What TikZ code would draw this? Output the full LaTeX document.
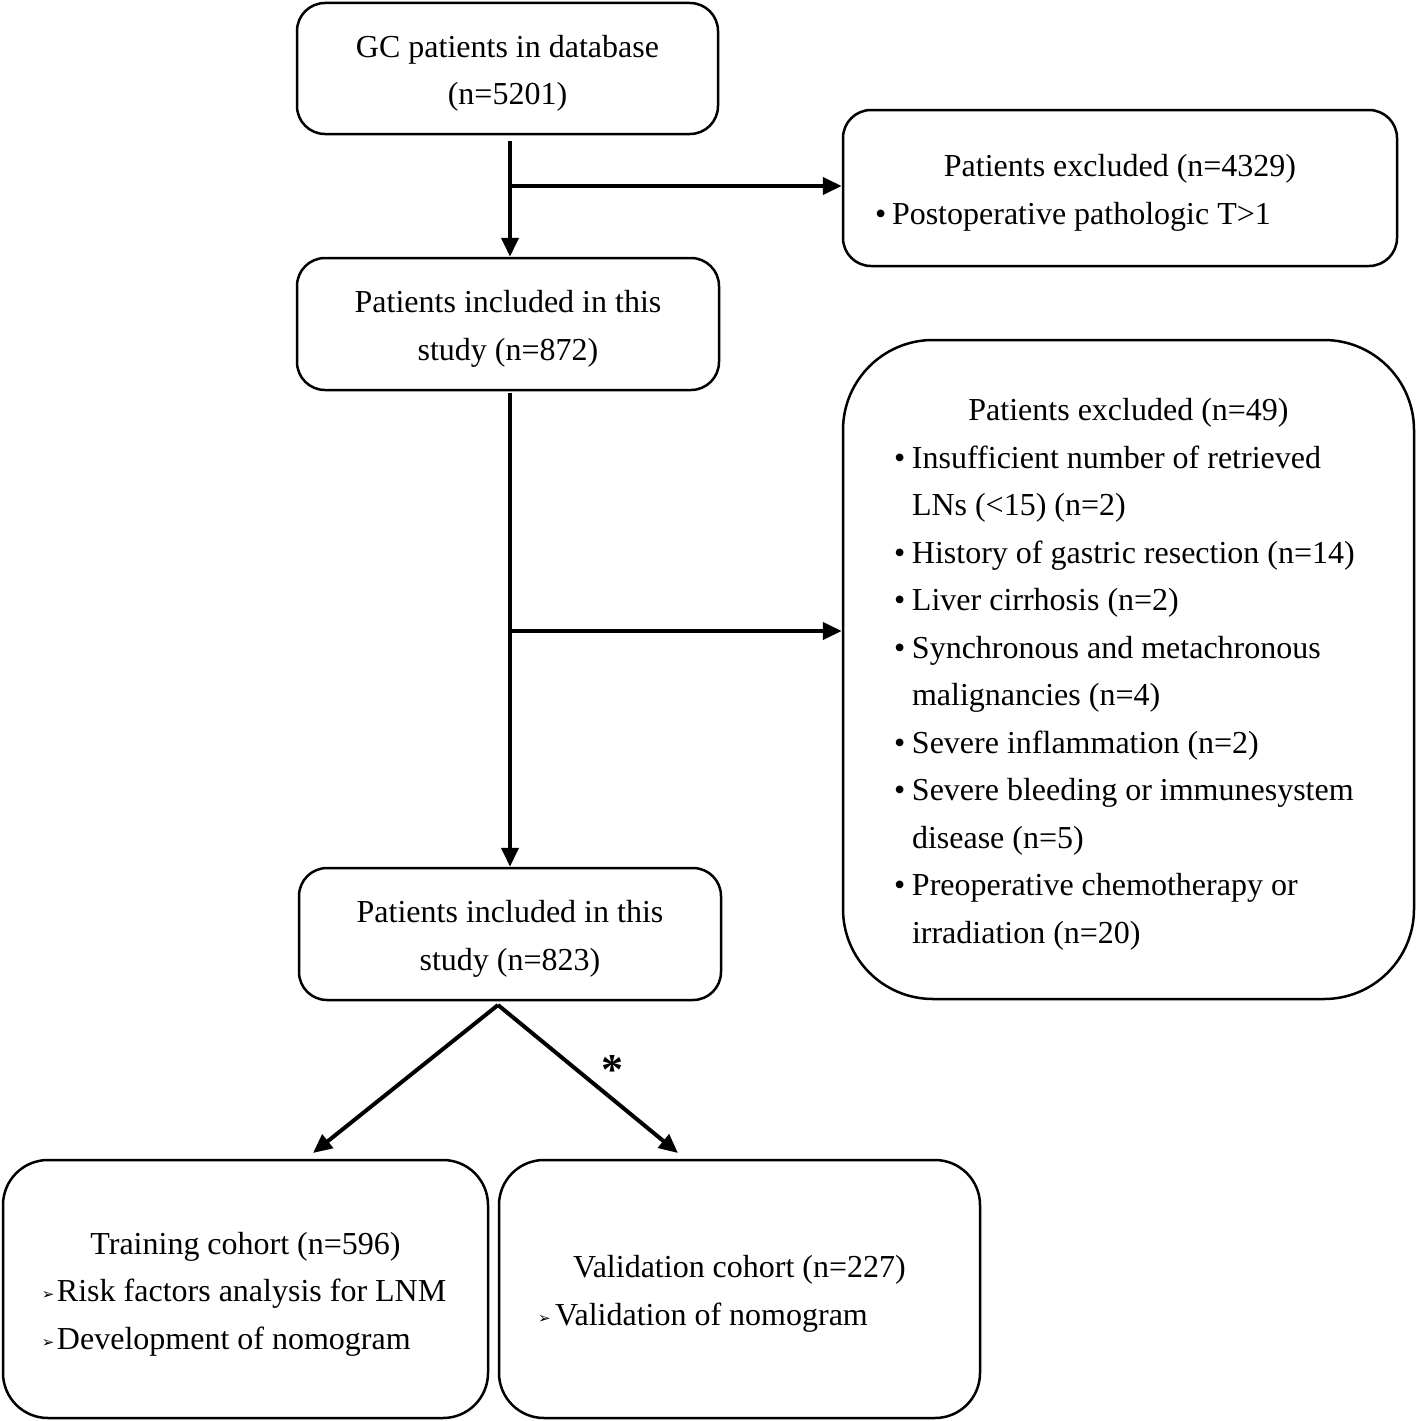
\documentclass[tikz,border=0pt]{standalone}
\usepackage{fontspec}
\setmainfont{Liberation Serif}
\newfontfamily\djv{DejaVu Sans}
\usetikzlibrary{arrows.meta}
\newcommand{\bu}[1][18pt]{\makebox[#1][l]{•}}
\newcommand{\arb}[1][15pt]{\makebox[#1][l]{\raisebox{2pt}{\fontsize{15}{15}\djv ➢}}}
\newcommand{\tx}[2]{\begin{minipage}{#1}\vspace*{10pt}\centering #2\end{minipage}}
\begin{document}
\begin{tikzpicture}[x=1pt,y=-1pt,
  box/.style={draw,line width=2.5pt,rounded corners=28pt,inner sep=0pt,
    font=\fontsize{32}{47.5}\selectfont,align=center},
  arr/.style={line width=4pt,-{Triangle[length=19pt,width=17pt]}},
  ln/.style={line width=4pt}]
\useasboundingbox (0,0) rectangle (1418,1421);

\node[box,minimum width=421pt,minimum height=131pt] (b1) at (507.5,68.5)
  {\tx{400pt}{GC patients in database\\(n=5201)}};
\node[box,minimum width=554pt,minimum height=156pt] (x1) at (1120,188)
  {\tx{490pt}{Patients excluded (n=4329)\par\raggedright
   \mbox{\bu[17pt]Postoperative pathologic T>1}}};
\node[box,minimum width=422pt,minimum height=132pt] (b2) at (508,324)
  {\tx{400pt}{Patients included in this\\study (n=872)}};
\node[box,rounded corners=90pt,minimum width=571pt,minimum height=659pt] (x2) at (1128.5,669.5)
  {\tx{469pt}{Patients excluded (n=49)\par\raggedright
   \mbox{\bu Insufficient number of retrieved}\\
   \mbox{\hspace*{18pt}LNs (<15) (n=2)}\\
   \mbox{\bu History of gastric resection (n=14)}\\
   \mbox{\bu Liver cirrhosis (n=2)}\\
   \mbox{\bu Synchronous and metachronous}\\
   \mbox{\hspace*{18pt}malignancies (n=4)}\\
   \mbox{\bu Severe inflammation (n=2)}\\
   \mbox{\bu Severe bleeding or immunesystem}\\
   \mbox{\hspace*{18pt}disease (n=5)}\\
   \mbox{\bu Preoperative chemotherapy or}\\
   \mbox{\hspace*{18pt}irradiation (n=20)}}};
\node[box,minimum width=422pt,minimum height=132pt] (b3) at (510,934)
  {\tx{400pt}{Patients included in this\\study (n=823)}};
\node[box,rounded corners=45pt,minimum width=485pt,minimum height=258pt] (tr) at (245.5,1289)
  {\tx{401pt}{Training cohort (n=596)\par\raggedright
   \mbox{\hspace*{-3pt}\arb Risk factors analysis for LNM}\\
   \mbox{\hspace*{-3pt}\arb Development of nomogram}}};
\node[box,rounded corners=45pt,minimum width=481pt,minimum height=258pt] (va) at (739.5,1289)
  {\tx{403pt}{Validation cohort (n=227)\par\raggedright
   \mbox{\arb[17pt]Validation of nomogram}}};

% connectors
\coordinate (j1) at (510,186);
\coordinate (j2) at (510,631);
\draw[arr] ([xshift=2.5pt,yshift=-6pt]b1.south) -- ([xshift=2pt]b2.north);
\draw[arr] (j1) -- (x1.west |- j1);
\draw[arr] ([xshift=2pt,yshift=-2pt]b2.south) -- (b3.north);
\draw[arr] (j2) -- (x2.west |- j2);

\coordinate (apex) at (498,1005);
\coordinate (ta) at (313,1153);
\coordinate (tb) at (678,1153);
\draw[arr] (apex) -- (ta);
\draw[arr] (apex) -- (tb);
\node[font=\fontsize{44}{44}\selectfont\bfseries,anchor=base,inner sep=0pt] (star) at (612,1084) {*};
\end{tikzpicture}
\end{document}
